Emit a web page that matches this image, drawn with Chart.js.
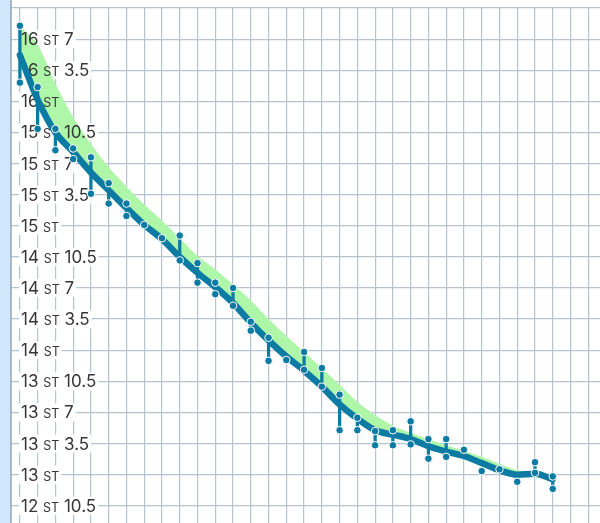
<!DOCTYPE html>
<html lang="en">
<head>
<meta charset="UTF-8" />
<meta name="viewport" content="width=device-width, initial-scale=1.0" />
<title>peso</title>
<script src="https://cdn.jsdelivr.net/npm/chart.js"></script>
<style>
  html, body { margin: 0; padding: 0; background: #fff; }
  #caixa { width: 600px; height: 523px; }
</style>
</head>
<body>
<div id="caixa"><canvas id="graficoPeso"></canvas></div>
<script>
  // dias (um por coluna da grade)
  const dias = [0, 1, 2, 3, 4, 5, 6, 7, 8, 9, 10, 11, 12, 13, 14, 15, 16, 17, 18, 19, 20, 21, 22, 23, 24, 25, 26, 27, 28, 29, 30];

  // pesagens do dia em libras (maior e menor)
  const pesoMax = [232.5, 225.6, 220.9, 218.7, 217.7, 214.8, 212.5, 210.1, 208.6, 208.9, 205.8, 203.6, 203.0, 199.2, 197.4, 194.9,
                   195.8, 194.0, 191.0, 188.4, 186.9, 187.0, 188.0, 186.0, 186.0, 184.8, 182.4, 182.6, 181.2, 183.4, 181.8];
  const pesoMin = [226.1, 220.9, 218.5, 217.5, 213.6, 212.5, 211.1, 210.1, 208.6, 206.1, 203.6, 202.3, 201.0, 198.2, 194.8, 194.9,
                   193.8, 191.9, 187.0, 187.0, 185.3, 185.3, 185.4, 183.8, 184.0, 184.8, 182.4, 182.6, 181.2, 182.2, 180.4];

  // linha de tendencia
  const tendencia = [229.2, 224.2, 220.5, 218.3, 216.0, 214.0, 212.0, 210.1, 208.5, 206.5, 204.7, 203.1, 201.3, 199.1, 197.1, 195.3,
                     193.7, 191.9, 189.9, 188.3, 187.0, 186.5, 186.0, 185.2, 184.6, 184.1, 183.3, 182.5, 182.0, 182.1, 181.5];

  // borda de cima da faixa verde
  const faixaSuperior = [232.4, 230.4, 226.0, 222.2, 219.2, 216.6, 214.4, 212.4, 210.6, 208.6, 206.6, 205.1, 203.4, 201.6, 199.5, 197.6,
                         195.8, 194.0, 192.1, 190.2, 188.7, 187.5, 186.7, 186.0, 185.3, 184.7, 184.0, 183.2, 182.5, 182.1, 181.5];

  // eixo Y
  const ticksY = [231, 227.5, 224, 220.5, 217, 213.5, 210, 206.5, 203, 199.5, 196, 192.5, 189, 185.5, 182, 178.5];
  const rotulosY = ['16 ST 7', '16 ST 3.5', '16 ST', '15 ST 10.5', '15 ST 7', '15 ST 3.5', '15 ST', '14 ST 10.5',
                    '14 ST 7', '14 ST 3.5', '14 ST', '13 ST 10.5', '13 ST 7', '13 ST 3.5', '13 ST', '12 ST 10.5'];

  const corLinha = '#0b7ba3';
  const corGrade = '#b6c4d0';
  const fonteGrande = '17px Inter';
  const fontePequena = '12.5px Inter';
  const xRotulo = 21;

  const fundoPlugin = {
    id: 'fundo',
    beforeDraw(chart) {
      const ctx = chart.ctx;
      ctx.save();
      ctx.fillStyle = '#ffffff';
      ctx.fillRect(0, 0, chart.width, chart.height);
      ctx.fillStyle = '#d1e7fb';
      ctx.fillRect(0, 0, chart.chartArea.left, chart.height);
      ctx.restore();
    }
  };

  function medirRotulo(ctx, texto) {
    const partes = texto.split(' ');
    const p1 = partes[0] + ' ';
    const p3 = partes.length > 2 ? ' ' + partes[2] : '';
    ctx.font = fonteGrande;
    const w1 = ctx.measureText(p1).width;
    const w3 = ctx.measureText(p3).width;
    ctx.font = fontePequena;
    const w2 = ctx.measureText(partes[1]).width;
    return { p1, p2: partes[1], p3, w1, w2, w3 };
  }

  // rotulos "16 ST 7" dentro do grafico, com ST menor
  const rotulosPlugin = {
    id: 'rotulos',
    beforeDatasetsDraw(chart) {
      // fundo branco que esconde a grade atras do texto + borda esquerda
      const ctx = chart.ctx;
      const escala = chart.scales.y;
      const area = chart.chartArea;
      ctx.save();
      ctx.strokeStyle = '#8fa5b7';
      ctx.lineWidth = 1.5;
      ctx.beginPath();
      ctx.moveTo(area.left, 0);
      ctx.lineTo(area.left, chart.height);
      ctx.stroke();
      for (let i = 0; i < ticksY.length; i++) {
        const y = escala.getPixelForValue(ticksY[i]);
        const m = medirRotulo(ctx, rotulosY[i]);
        ctx.fillStyle = '#ffffff';
        ctx.fillRect(xRotulo - 2, y - 9, m.w1 + m.w2 + m.w3 + 4, 18);
      }
      ctx.restore();
    },
    afterDatasetDraw(chart, args) {
      // texto por cima da faixa verde, por baixo da tendencia
      if (args.index !== 0) return;
      const ctx = chart.ctx;
      const escala = chart.scales.y;
      ctx.save();
      ctx.fillStyle = '#363636';
      ctx.textBaseline = 'alphabetic';
      for (let i = 0; i < ticksY.length; i++) {
        const y = escala.getPixelForValue(ticksY[i]);
        const m = medirRotulo(ctx, rotulosY[i]);
        ctx.font = fonteGrande;
        ctx.fillText(m.p1, xRotulo, y + 6);
        ctx.font = fontePequena;
        ctx.fillText(m.p2, xRotulo + m.w1, y + 6);
        ctx.font = fonteGrande;
        ctx.fillText(m.p3, xRotulo + m.w1 + m.w2, y + 6);
      }
      ctx.restore();
    }
  };

  const pontos = [];
  for (let i = 0; i < dias.length; i++) {
    pontos.push({ x: dias[i], y: pesoMax[i] });
    if (pesoMin[i] !== pesoMax[i]) pontos.push({ x: dias[i], y: pesoMin[i] });
  }

  const config = {
    type: 'line',
    data: {
      datasets: [
        {
          label: 'faixa',
          data: dias.map((d, i) => ({ x: d, y: faixaSuperior[i] })),
          borderWidth: 0,
          pointRadius: 0,
          backgroundColor: '#aef7a8',
          fill: '+1',
          cubicInterpolationMode: 'monotone',
          order: 4
        },
        {
          label: 'tendencia',
          data: dias.map((d, i) => ({ x: d, y: tendencia[i] })),
          borderColor: corLinha,
          borderWidth: 6.5,
          pointRadius: 0,
          fill: false,
          cubicInterpolationMode: 'monotone',
          borderCapStyle: 'round',
          order: 1
        },
        {
          type: 'bar',
          label: 'variacao',
          data: dias.map((d, i) => ({ x: d, y: [pesoMin[i], pesoMax[i]] })),
          backgroundColor: corLinha,
          barThickness: 2.6,
          grouped: false,
          order: 2
        },
        {
          label: 'pesagens',
          data: pontos,
          showLine: false,
          pointRadius: 3.8,
          pointBackgroundColor: corLinha,
          pointBorderColor: '#ffffff',
          pointBorderWidth: 1,
          order: 0
        }
      ]
    },
    options: {
      responsive: true,
      maintainAspectRatio: false,
      animation: false,
      layout: { autoPadding: false, padding: { left: 11, top: 8, right: 0, bottom: 0 } },
      plugins: { legend: { display: false }, tooltip: { enabled: false } },
      scales: {
        x: {
          type: 'linear',
          min: -0.5,
          max: 32.66,
          offset: false,
          afterBuildTicks(escala) {
            const t = [];
            for (let v = 0; v <= 32; v++) t.push({ value: v });
            escala.ticks = t;
          },
          afterFit(escala) {
            escala.height = 0;
          },
          ticks: { display: false },
          grid: { color: corGrade, lineWidth: 1.2, drawTicks: false, offset: false },
          border: { display: false }
        },
        y: {
          min: 176.56,
          max: 234.5,
          afterBuildTicks(escala) {
            escala.ticks = [234.5].concat(ticksY).map(v => ({ value: v }));
          },
          afterFit(escala) {
            escala.width = 0;
          },
          ticks: { display: false },
          grid: { color: corGrade, lineWidth: 1.2, drawTicks: false },
          border: { display: false }
        }
      }
    },
    plugins: [fundoPlugin, rotulosPlugin]
  };

  const graficoPeso = new Chart(document.getElementById('graficoPeso'), config);
</script>
</body>
</html>
